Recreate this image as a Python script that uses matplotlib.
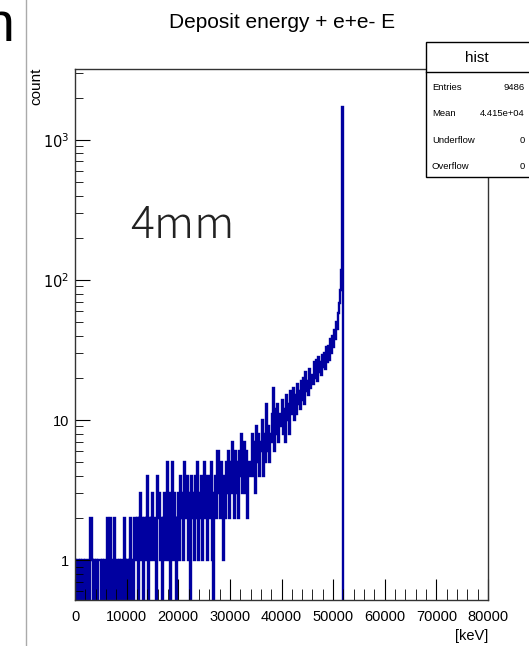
import numpy as np
import matplotlib.pyplot as plt
from matplotlib.patches import Rectangle
from matplotlib.lines import Line2D

# histogram binning: 200 keV bins from 0 to 80000 keV
BIN_WIDTH = 200
X_MAX = 80000

# counts per bin (bins 0 .. 259, i.e. 0 - 52000 keV)
counts_0_11k6 = [
    1, 0, 1, 1, 0, 1, 0, 1, 1, 0,
    1, 0, 0, 1, 0, 2, 1, 0, 1, 0,
    1, 0, 1, 1, 1, 0, 1, 0, 1, 0,
    0, 2, 1, 0, 2, 0, 1, 0, 2, 0,
    1, 1, 0, 1, 0, 1, 0, 2, 1, 0,
    1, 0, 1, 2, 0, 1, 0, 2,
]
counts_11k6_20k = [
    2, 1, 2, 0, 2, 3, 1, 2, 0, 2,
    1, 2, 4, 0, 2, 1, 2, 3, 1, 2,
    0, 4, 2, 3, 1, 2, 0, 2, 3, 1,
    2, 5, 1, 3, 0, 2, 5, 1, 3, 2, 0, 2,
]
counts_20k_29k4 = [
    3, 1, 4, 2, 3, 1, 5, 2, 4, 1,
    3, 0, 4, 2, 3, 1, 4, 2, 5, 1,
    3, 2, 4, 1, 3, 5, 2, 4, 1, 3,
    4, 2, 5, 1, 0, 3, 4, 2, 6, 3,
    2, 5, 3, 1, 4, 2, 5,
]
counts_29k4_34k = [
    3, 6, 2, 5, 3, 7, 4, 2, 6, 3,
    5, 2, 6, 4, 8, 3, 5, 7, 3, 6, 2, 5, 4,
]
counts_34k_42k = [
    5, 8, 4, 7, 3, 9, 5, 8, 4, 7,
    6, 10, 4, 8, 5, 13, 6, 9, 5, 8,
    7, 11, 17, 6, 12, 8, 13, 7, 11, 9,
    14, 8, 12, 7, 15, 10, 13, 8, 16, 11,
]
counts_42k_49k = [
    12, 17, 10, 15, 11, 18, 13, 16, 12, 19,
    14, 20, 13, 22, 16, 19, 15, 23, 17, 21,
    18, 26, 20, 27, 19, 28, 22, 26, 21, 29,
    24, 30, 23, 33, 26,
]
counts_49k_52k = [34, 27, 38, 30, 40, 33, 44, 38, 50, 45,
                  58, 68, 85, 118, 1720]

stats_names = ["Entries", "Mean", "Underflow", "Overflow"]
stats_values = ["9486", "4.415e+04", "0", "0"]

counts = np.array(counts_0_11k6 + counts_11k6_20k + counts_20k_29k4
                  + counts_29k4_34k + counts_34k_42k + counts_42k_49k
                  + counts_49k_52k, dtype=float)
n_bins = X_MAX // BIN_WIDTH
counts = np.concatenate([counts, np.zeros(n_bins - len(counts))])
edges = np.arange(n_bins + 1) * BIN_WIDTH

W, H = 529, 646
fig = plt.figure(figsize=(W / 100, H / 100), dpi=100)
plt.rcParams['font.family'] = ['Liberation Sans', 'DejaVu Sans']


def fx(px):
    return px / W


def fy(py):
    return 1 - py / H


ax = fig.add_axes([fx(75), fy(600), fx(488) - fx(75), fy(69) - fy(600)])

# empty bins go to the bottom of the frame, like ROOT does on a log axis
draw = np.where(counts > 0, counts, 0.05)
ax.stairs(draw, edges, color='#0000a0', lw=1.7, baseline=0.05)

ax.set_yscale('log')
ax.set_xlim(0, X_MAX)
ax.set_ylim(0.52, 3200)

ax.set_xticks(np.arange(0, 80001, 10000))
ax.set_xticks(np.arange(0, 80001, 2000), minor=True)
ax.set_xticklabels([str(v) for v in range(0, 80001, 10000)])
ax.set_yticks([1, 10, 100, 1000])
ax.set_yticklabels(['1', '10', r'$10^{2}$', r'$10^{3}$'])
ax.tick_params(axis='both', which='major', direction='in', labelsize=10.5,
               top=False, right=False)
ax.tick_params(axis='x', which='major', length=15, pad=7)
ax.tick_params(axis='y', which='major', length=11, pad=4)
ax.tick_params(axis='x', which='minor', direction='in', length=8, top=False)
ax.tick_params(axis='y', which='minor', direction='in', length=6, right=False)
for s in ax.spines.values():
    s.set_color('#333333')
    s.set_linewidth(1.0)

# title, axis titles
fig.text(fx(282), fy(22), 'Deposit energy + e+e- E', ha='center', va='center',
         fontsize=15)
fig.text(fx(488), fy(636), '[keV]', ha='right', va='center', fontsize=10.5)
fig.text(fx(36), fy(68), 'count', rotation=90, ha='center', va='top', fontsize=11)

# label inside the plot
ax.text(fx(130), fy(225), '4mm', transform=fig.transFigure, ha='left',
        va='center', fontsize=32, family=['Noto Sans CJK JP', 'DejaVu Sans'],
        fontweight='light', color='#222222')

# stats box
box = Rectangle((fx(426), fy(177)), fx(540) - fx(426), fy(42) - fy(177),
                transform=fig.transFigure, facecolor='white', edgecolor='black',
                lw=1.0, zorder=5)
fig.add_artist(box)
fig.add_artist(Line2D([fx(426), fx(540)], [fy(72), fy(72)], color='black',
                      lw=1.0, zorder=6))
fig.text(fx(477), fy(58), 'hist', ha='center', va='center', fontsize=11, zorder=7)
for i, (name, val) in enumerate(zip(stats_names, stats_values)):
    yy = 88 + i * 26
    fig.text(fx(432), fy(yy), name, ha='left', va='center', fontsize=6.8, zorder=7)
    fig.text(fx(525), fy(yy), val, ha='right', va='center', fontsize=6.8, zorder=7)

# leftovers of the neighbouring panel
fig.add_artist(Line2D([fx(26), fx(26)], [0, 1], color='#aaaaaa', lw=1.0))
fig.text(fx(14), fy(27), 'n', ha='right', va='center', fontsize=40)

fig.savefig('out.png', dpi=100)
